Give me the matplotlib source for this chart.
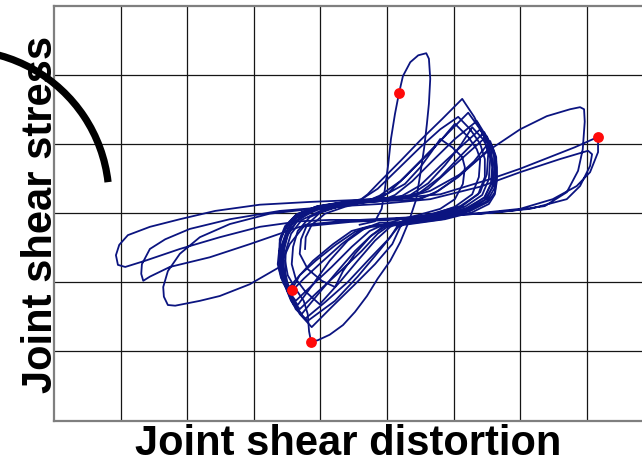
import matplotlib
matplotlib.use("Agg")
import matplotlib.pyplot as plt
from matplotlib.patches import Arc

# Joint shear distortion / joint shear stress, in grid units
# Repeated pinched cycles around the origin
cycles_x = [
    -1.23,
    -1.22, -1.13, -0.93, -0.63, -0.33, -0.03, 0.27, 0.50, 0.68, 0.80, 0.98, 1.13, 1.17, 1.14, 1.02, 0.80, 0.47, 0.20, -0.03, -0.26, -0.48, -0.66, -0.78, -0.98, -1.19, -1.31,
    -1.29, -1.20, -1.01, -0.71, -0.33, -0.11, 0.20, 0.50, 0.80, 1.02, 1.22, 1.35, 1.40, 1.38, 1.28, 1.02, 0.65, 0.27, 0.05, -0.18, -0.44, -0.71, -1.01, -1.23, -1.37, -1.43,
    -1.41, -1.34, -1.16, -0.86, -0.48, -0.29, -0.11, 0.20, 0.50, 0.83, 1.13, 1.31, 1.46, 1.52, 1.50, 1.40, 1.13, 0.72, 0.35, 0.20, 0.08, -0.18, -0.48, -0.83, -1.13, -1.31, -1.46, -1.53,
    -1.52, -1.44, -1.28, -0.98, -0.56, -0.18, 0.02, 0.27, 0.57, 0.90, 1.22, 1.40, 1.52, 1.55, 1.53, 1.43, 1.17, 0.80, 0.38, 0.17, 0.02, -0.26, -0.59, -0.93, -1.23, -1.41, -1.52, -1.56,
    -1.55, -1.47, -1.31, -1.01, -0.56, -0.11, 0.12, 0.38, 0.68, 1.02, 1.35, 1.49, 1.56, 1.59, 1.58, 1.47, 1.22, 0.83, 0.35, 0.05, -0.14, -0.38, -0.71, -1.04, -1.31, -1.46, -1.55, -1.58,
    -1.56, -1.49, -1.34, -1.04, -0.59, -0.11, 0.23, 0.50, 0.80, 1.10, 1.40, 1.53, 1.61, 1.62, 1.59, 1.49, 1.25, 0.86, 0.35, -0.03, -0.26, -0.53, -0.83, -1.13, -1.37, -1.50, -1.58, -1.61,
    -1.61, -1.53, -1.37, -1.07, -0.63, -0.11, 0.35, 0.62, 0.92, 1.22, 1.50, 1.59, 1.64, 1.64, 1.61, 1.50, 1.25, 0.86, 0.32, -0.14, -0.38, -0.68, -0.98, -1.25, -1.46, -1.56, -1.62, -1.62,
    -1.59, -1.50, -1.34, -1.04, -0.59, -0.03, 0.50, 0.77, 1.07, 1.34, 1.58, 1.64, 1.65, 1.62, 1.52, 1.25, 0.83, 0.27, -0.26, -0.53, -0.81, -1.11, -1.31, -1.43, -1.55, -1.61, -1.61,
]
cycles_y = [
    -0.52,
    -0.35, -0.17, -0.01, 0.09, 0.16, 0.26, 0.42, 0.66, 0.90, 1.07, 0.95, 0.81, 0.66, 0.42, 0.20, 0.06, -0.03, -0.09, -0.17, -0.35, -0.59, -0.84, -1.07, -0.98, -0.81, -0.59,
    -0.38, -0.17, 0.00, 0.10, 0.16, 0.25, 0.46, 0.75, 1.04, 1.29, 1.10, 0.92, 0.78, 0.52, 0.27, 0.09, -0.03, -0.10, -0.20, -0.40, -0.69, -1.00, -1.32, -1.13, -0.95, -0.74,
    -0.49, -0.26, -0.06, 0.07, 0.13, 0.27, 0.45, 0.75, 1.05, 1.36, 1.65, 1.39, 1.10, 0.85, 0.56, 0.30, 0.10, -0.03, -0.09, -0.20, -0.45, -0.74, -1.03, -1.36, -1.65, -1.46, -1.17, -0.84,
    -0.55, -0.30, -0.10, 0.04, 0.12, 0.19, 0.29, 0.52, 0.81, 1.14, 1.45, 1.21, 1.00, 0.78, 0.49, 0.26, 0.09, -0.03, -0.10, -0.20, -0.38, -0.66, -1.00, -1.29, -1.53, -1.32, -1.07, -0.78,
    -0.49, -0.26, -0.07, 0.06, 0.13, 0.17, 0.26, 0.46, 0.75, 1.07, 1.33, 1.11, 0.92, 0.71, 0.45, 0.23, 0.07, -0.04, -0.12, -0.17, -0.30, -0.55, -0.85, -1.14, -1.39, -1.20, -0.95, -0.69,
    -0.43, -0.22, -0.04, 0.07, 0.14, 0.19, 0.25, 0.40, 0.68, 0.95, 1.21, 1.03, 0.84, 0.64, 0.39, 0.20, 0.06, -0.06, -0.13, -0.16, -0.26, -0.49, -0.78, -1.05, -1.27, -1.10, -0.87, -0.64,
    -0.38, -0.19, -0.03, 0.09, 0.16, 0.20, 0.22, 0.35, 0.61, 0.87, 1.11, 0.92, 0.75, 0.56, 0.35, 0.17, 0.04, -0.07, -0.14, -0.17, -0.23, -0.45, -0.71, -0.95, -1.16, -1.01, -0.81, -0.59,
    -0.35, -0.17, -0.01, 0.10, 0.17, 0.22, 0.20, 0.32, 0.52, 0.75, 0.97, 0.81, 0.52, 0.30, 0.16, 0.03, -0.09, -0.16, -0.19, -0.26, -0.45, -0.69, -0.90, -1.11, -0.95, -0.74, -0.52,
]

# Later pinched cycles
late_cycles_x = [
    -1.58, -1.47, -1.28, -0.93, -0.48, -0.03, 0.35, 0.62, 0.87, 1.10, 1.28, 1.44, 1.55, 1.58, 1.56, 1.46, 1.19, 0.77, 0.32, 0.02, -0.23, -0.48, -0.75, -1.04, -1.28, -1.44, -1.55, -1.59,
    -1.58, -1.50, -1.35, -1.08, -0.63, -0.14, 0.20, 0.50, 0.80, 1.13, 1.46, 1.56, 1.61, 1.61, 1.58, 1.47, 1.22, 0.80, 0.27, -0.11, -0.33, -0.59, -0.86, -1.11, -1.34, -1.49, -1.58, -1.62,
    -1.61, -1.53, -1.38, -1.13, -0.71, -0.38, -0.14, 0.17, 0.50, 0.80, 1.07, 1.25, 1.40, 1.47, 1.47, 1.37, 1.10, 0.68, 0.35, 0.17, 0.05, -0.17, -0.44, -0.78, -1.19, -1.37, -1.49, -1.55,
    -1.55, -1.49, -1.35, -1.10, -0.68, -0.11, 0.42, 0.72, 1.02, 1.31, 1.55, 1.62, 1.65, 1.65, 1.62, 1.53, 1.28, 0.87, 0.27, -0.23, -0.48, -0.77, -1.07, -1.31, -1.49, -1.59, -1.64, -1.62,
]
late_cycles_y = [
    -0.32, -0.14, 0.00, 0.10, 0.14, 0.19, 0.26, 0.43, 0.69, 0.97, 1.24, 1.07, 0.88, 0.66, 0.42, 0.22, 0.07, -0.04, -0.12, -0.17, -0.32, -0.55, -0.85, -1.18, -1.46, -1.27, -1.01, -0.74,
    -0.46, -0.25, -0.07, 0.06, 0.13, 0.17, 0.20, 0.30, 0.52, 0.85, 1.17, 0.98, 0.81, 0.61, 0.36, 0.19, 0.06, -0.06, -0.13, -0.14, -0.22, -0.40, -0.69, -1.03, -1.33, -1.13, -0.90, -0.66,
    -0.43, -0.23, -0.06, 0.07, 0.14, 0.20, 0.35, 0.64, 0.95, 1.21, 1.39, 1.21, 1.00, 0.78, 0.52, 0.27, 0.10, -0.01, -0.07, -0.17, -0.35, -0.61, -0.92, -1.27, -1.56, -1.39, -1.13, -0.81,
    -0.55, -0.32, -0.12, 0.04, 0.13, 0.17, 0.19, 0.29, 0.49, 0.75, 1.04, 0.85, 0.66, 0.46, 0.27, 0.13, 0.01, -0.09, -0.17, -0.20, -0.27, -0.46, -0.69, -0.90, -1.10, -0.94, -0.74, -0.55,
]

# Large positive excursion
tall_x = [-0.41, -0.18, -0.08, -0.03, 0.02, 0.06, 0.12, 0.18, 0.24, 0.35, 0.47, 0.59, 0.63, 0.65, 0.63, 0.60,
          0.56, 0.50, 0.44, 0.33, 0.20, 0.05, -0.14, -0.30, -0.48, -0.66, -0.86, -1.04, -1.14, -1.17, -1.19,
          -1.25, -1.37, -1.49, -1.53]
tall_y = [-0.17, -0.12, 0.06, 0.35, 0.71, 1.07, 1.43, 1.73, 1.98, 2.18, 2.28, 2.31, 2.23, 1.94, 1.58, 1.29,
          0.95, 0.56, 0.20, -0.12, -0.42, -0.69, -0.95, -1.20, -1.43, -1.62, -1.76, -1.84, -1.86, -1.71, -1.46,
          -1.27, -1.10, -0.90, -0.69]

# Wide cycles reaching far in both directions
wide_x = [
    -1.56, -1.53, -1.43, -1.23, -0.86, -0.26, 0.20, 0.65, 1.10, 1.55, 2.00, 2.40, 2.75, 2.90, 2.96, 2.97,
    2.94, 2.87, 2.70, 2.37, 1.85, 1.40, 0.80, 0.20, -0.41, -0.86, -1.31, -1.91, -2.51, -3.11, -3.63, -3.93,
    -4.04, -4.07, -4.02, -3.89, -3.56, -3.11, -2.58, -1.91, -1.16, -0.41, 0.20, 0.80, 1.55, 2.00, 2.45, 2.82,
    3.17, 3.17, 3.05, 2.85, 2.49, 2.00, 1.40, 0.80, 0.20, -0.56, -1.31, -2.06, -2.66, -3.26, -3.56, -3.66,
    -3.69, -3.68, -3.56, -3.33, -2.96, -2.36, -1.61, -0.86, -0.11, 0.65, 1.40, 2.00, 2.60, 3.02, 3.08, 3.05,
    2.90, 2.70, 2.15, 1.40, 0.50, -0.11, -0.71, -1.23, -1.46, -1.61, -2.06, -2.51, -2.81, -3.18, -3.29, -3.35,
    -3.36, -3.29, -3.11, -2.81, -2.36, -1.76, -1.31, -0.71,
]
wide_y = [
    -0.66, -0.38, -0.17, 0.00, 0.12, 0.17, 0.20, 0.32, 0.56, 0.92, 1.21, 1.40, 1.50, 1.53, 1.50, 1.32,
    0.92, 0.61, 0.30, 0.10, 0.03, -0.01, -0.04, -0.07, -0.10, -0.10, -0.12, -0.20, -0.35, -0.52, -0.69, -0.78,
    -0.75, -0.61, -0.46, -0.32, -0.20, -0.09, 0.03, 0.12, 0.16, 0.19, 0.22, 0.27, 0.49, 0.64, 0.81, 0.95,
    1.10, 0.88, 0.59, 0.39, 0.20, 0.06, 0.00, -0.04, -0.09, -0.13, -0.20, -0.45, -0.64, -0.78, -0.92, -0.98,
    -0.88, -0.74, -0.52, -0.38, -0.23, -0.09, 0.03, 0.09, 0.13, 0.20, 0.38, 0.59, 0.78, 0.90, 0.85, 0.68,
    0.39, 0.20, 0.06, -0.01, -0.06, -0.10, -0.12, -0.17, -0.45, -0.78, -1.03, -1.20, -1.27, -1.34, -1.33, -1.21,
    -1.07, -0.84, -0.59, -0.35, -0.16, -0.01, 0.04, 0.09,
]

# Marked peak points
peak_x = [0.18, 3.17, -1.43, -1.14]
peak_y = [1.73, 1.10, -1.11, -1.86]

line_color = "#0b1480"

fig = plt.figure(figsize=(6.42, 4.64), dpi=100)
ax = fig.add_axes([54 / 642, 42.5 / 464, 588 / 642, 415 / 464])

for xs, ys in ((cycles_x, cycles_y), (late_cycles_x, late_cycles_y),
               (tall_x, tall_y), (wide_x, wide_y)):
    ax.plot(xs, ys, color=line_color, lw=1.3, solid_joinstyle="round", zorder=3)
ax.plot(peak_x, peak_y, "o", color="#ff0a0a", markersize=7.8, markeredgewidth=0, zorder=4)

ax.set_xlim(-5, 3.83)
ax.set_ylim(-3, 3)
ax.set_xticks(range(-4, 4))
ax.set_yticks(range(-2, 3))
ax.tick_params(length=0, labelbottom=False, labelleft=False)
ax.grid(True, color="#151515", lw=0.9)
ax.set_axisbelow(True)
for side in ("left", "top", "bottom"):
    ax.spines[side].set_color("#7f7f7f")
    ax.spines[side].set_linewidth(1.6)
ax.spines["right"].set_visible(False)

label_font = dict(family="Liberation Sans", fontweight="bold", fontsize=30)
ax.set_xlabel("Joint shear distortion", labelpad=2, **label_font)
ax.set_ylabel("Joint shear stress", **label_font)
ax.yaxis.set_label_coords(0.012, 0.5)

# Curved stroke in the upper-left corner
arc = Arc((-0.40, 2.64), 2.98, 2.98, theta1=6.5, theta2=115,
          transform=fig.dpi_scale_trans, color="black", lw=5.2, capstyle="butt", zorder=10)
arc.set_clip_on(False)
fig.add_artist(arc)

fig.savefig("out.png", dpi=100)
